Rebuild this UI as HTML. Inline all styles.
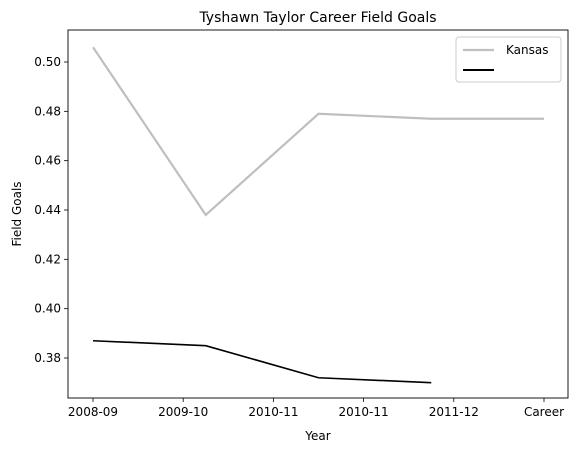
<!DOCTYPE html>
<html><head><meta charset="utf-8"><style>
body{margin:0;background:#fff;font-family:"Liberation Sans","DejaVu Sans",sans-serif;}
svg text{font-family:"DejaVu Sans","Liberation Sans",sans-serif;}
</style></head><body>
<svg id="chart" width="579" height="453">
<rect width="579" height="453" fill="#fff"/>
</svg>
<script>
const tickLabels=["2008-09","2009-10","2010-11","2010-11","2011-12","Career"];
const kansasX=[0,1.25,2.5,3.75,5];
const kansasFG=[0.506,0.438,0.479,0.477,0.477];
const otherX=[0,1.25,2.5,3.75];
const otherFG=[0.387,0.385,0.372,0.370];
const yTicks=[0.38,0.40,0.42,0.44,0.46,0.48,0.50];

const svg=document.getElementById('chart');
const NS='http://www.w3.org/2000/svg';
const L=68,R=568,T=30,B=398;
const xs=v=>93+v*90.2;
const ys=v=>62+(0.50-v)*2466.7;
function mk(tag,attrs,parent){const e=document.createElementNS(NS,tag);for(const k in attrs)e.setAttribute(k,attrs[k]);(parent||svg).appendChild(e);return e;}

// series
let d=kansasX.map((x,i)=>(i?'L':'M')+xs(x)+' '+ys(kansasFG[i])).join(' ');
const p1=mk('path',{d:d,fill:'none',stroke:'#bfbfbf','stroke-width':2.2});


d=otherX.map((x,i)=>(i?'L':'M')+xs(x)+' '+ys(otherFG[i])).join(' ');
const p2=mk('path',{d:d,fill:'none',stroke:'#000','stroke-width':1.6});



// axes frame
const fr=mk('rect',{x:L,y:T,width:R-L,height:B-T,fill:'none',stroke:'#000','stroke-width':0.9});



tickLabels.forEach((t,i)=>{
  const x=xs(i);
  mk('line',{x1:x,x2:x,y1:B,y2:B+4,stroke:'#000','stroke-width':0.8});
  const tx=mk('text',{x:x,y:B+18,'text-anchor':'middle','font-size':12});
  tx.textContent=t;
  
  
});
yTicks.forEach(v=>{
  const y=ys(v);
  mk('line',{x1:L-4,x2:L,y1:y,y2:y,stroke:'#000','stroke-width':0.8});
  const tx=mk('text',{x:L-7,y:y+4,'text-anchor':'end','font-size':12});
  tx.textContent=v.toFixed(2);
  
  
});

const title=mk('text',{x:(L+R)/2,y:22,'text-anchor':'middle','font-size':14});
title.textContent='Tyshawn Taylor Career Field Goals';


const xt=mk('text',{x:(L+R)/2,y:440,'text-anchor':'middle','font-size':12});
xt.textContent='Year';


const yt=mk('text',{x:21,y:(T+B)/2,'text-anchor':'middle','font-size':12,transform:'rotate(-90 21 '+((T+B)/2)+')'});
yt.textContent='Field Goals';



// legend
const lg=mk('g',{});


mk('rect',{x:456,y:37,width:105,height:45,rx:3,fill:'#fff',stroke:'#ccc','stroke-width':1},lg);
mk('line',{x1:463,x2:494,y1:50,y2:50,stroke:'#bfbfbf','stroke-width':2.2},lg);
const lt=mk('text',{x:506,y:54,'font-size':12},lg);
lt.textContent='Kansas';


mk('line',{x1:463,x2:494,y1:70,y2:70,stroke:'#000','stroke-width':2},lg);
</script>
</body></html>
